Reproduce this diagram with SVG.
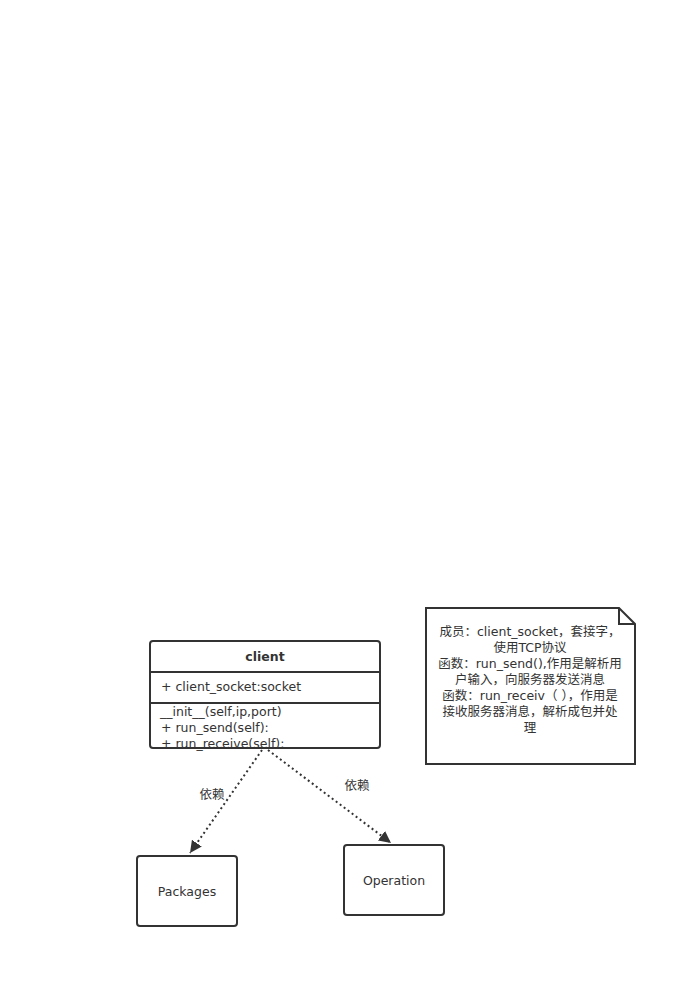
<svg xmlns="http://www.w3.org/2000/svg" width="697" height="987" viewBox="0 0 697 987">
<style>
.box{fill:#fff;stroke:#333;stroke-width:2}
.t{font-family:"DejaVu Sans","Noto Sans CJK SC",sans-serif;font-size:12.5px;fill:#333}
.n{font-family:"DejaVu Sans","Noto Sans CJK SC",sans-serif;font-size:12.5px;fill:#333;text-anchor:middle}
.c{text-anchor:middle}
.dep{fill:none;stroke:#333;stroke-width:2;stroke-dasharray:2 3}
</style>
<defs>
<marker id="ah" markerWidth="12" markerHeight="12" refX="10" refY="5" orient="auto" markerUnits="userSpaceOnUse" viewBox="0 0 10 10">
<path d="M0,0 L10,5 L0,10 Z" fill="#333"/>
</marker>
</defs>
<rect width="697" height="987" fill="#fff"/>
<g id="connectors">
<line class="dep" x1="262" y1="750" x2="190" y2="853" marker-end="url(#ah)"/>
<line class="dep" x1="268" y1="750" x2="391" y2="843" marker-end="url(#ah)"/>
<text class="t c" x="212" y="799">依赖</text>
<text class="t c" x="357" y="790">依赖</text>
</g>
<g id="client">
<rect class="box" x="150" y="641" width="230" height="107" rx="3"/>
<line x1="150" y1="672" x2="380" y2="672" stroke="#333" stroke-width="2"/>
<line x1="150" y1="703" x2="380" y2="703" stroke="#333" stroke-width="2"/>
<text class="t c" x="265" y="661" font-weight="bold">client</text>
<text class="t" x="161" y="691">+ client_socket:socket</text>
<text class="t" x="160" y="716">__init__(self,ip,port)</text>
<text class="t" x="161" y="732">+ run_send(self):</text>
<text class="t" x="161" y="748">+ run_receive(self):</text>
</g>
<g id="note">
<path class="box" d="M426,608 L619,608 L635,624 L635,764 L426,764 Z"/>
<path d="M619,608 L619,624 L635,624" fill="none" stroke="#333" stroke-width="2"/>
<text class="n" x="530" y="636">成员：client_socket，套接字，</text>
<text class="n" x="530" y="652">使用TCP协议</text>
<text class="n" x="530" y="668">函数：run_send(),作用是解析用</text>
<text class="n" x="530" y="684">户输入，向服务器发送消息</text>
<text class="n" x="530" y="700">函数：run_receiv（ ），作用是</text>
<text class="n" x="530" y="716">接收服务器消息，解析成包并处</text>
<text class="n" x="530" y="732">理</text>
</g>
<g id="packages">
<rect class="box" x="137" y="856" width="100" height="70" rx="3"/>
<text class="t c" x="187" y="896">Packages</text>
</g>
<g id="operation">
<rect class="box" x="344" y="845" width="100" height="70" rx="3"/>
<text class="t c" x="394" y="885">Operation</text>
</g>
</svg>
